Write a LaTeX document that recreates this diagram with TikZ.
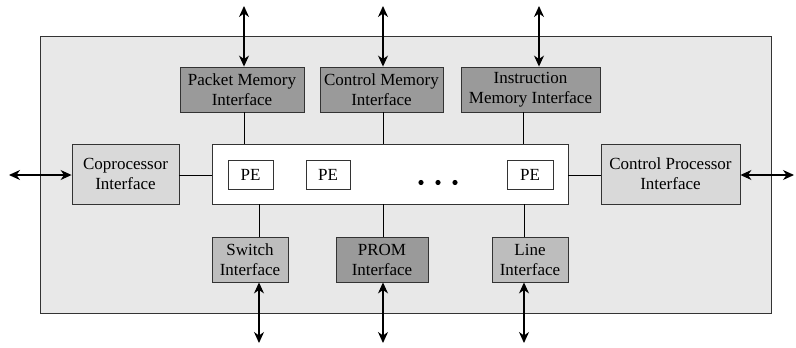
\documentclass[tikz,border=0pt]{standalone}
\usepackage{fontspec}
\setmainfont{Liberation Serif}
\usetikzlibrary{arrows.meta}
\definecolor{outerfill}{HTML}{E8E8E8}
\definecolor{lightfill}{HTML}{D9D9D9}
\definecolor{midfill}{HTML}{BDBDBD}
\definecolor{darkfill}{HTML}{9A9A9A}
\definecolor{edge}{HTML}{333333}
\begin{document}
\begin{tikzpicture}[x=1pt,y=-1pt,
  blk/.style={rectangle,draw=edge,line width=0.9pt,inner sep=0pt,align=center,
    font=\fontsize{17}{20}\selectfont},
  conn/.style={draw=black,line width=0.9pt},
  bidir/.style={black,line width=1.1pt,{Stealth[length=11pt,width=10pt,inset=3.5pt]}-{Stealth[length=11pt,width=10pt,inset=3.5pt]}}]
\useasboundingbox (0,0) rectangle (796,348);
% outer chip
\node[blk,fill=outerfill,minimum width=731pt,minimum height=277pt] (chip) at (405.5,174.5) {};
% core
\node[blk,fill=white,minimum width=356pt,minimum height=60pt] (core) at (390,174) {};
\node[blk,fill=white,minimum width=45pt,minimum height=29pt] (pe1) at (250.5,174.5) {PE};
\node[blk,fill=white,minimum width=44pt,minimum height=29pt] (pe2) at (328,174.5) {PE};
\node[blk,fill=white,minimum width=46pt,minimum height=29pt] (pe3) at (530,174.5) {PE};
\fill (421,182.5) circle (2.6pt) (438,182.5) circle (2.6pt) (455,182.5) circle (2.6pt);
% top interfaces
\node[blk,fill=darkfill,minimum width=124pt,minimum height=45pt] (pmi) at (242,89.5) {Packet Memory\\Interface};
\node[blk,fill=darkfill,minimum width=123pt,minimum height=45pt] (cmi) at (381.5,89.5) {Control Memory\\Interface};
\node[blk,fill=darkfill,minimum width=139pt,minimum height=45pt] (imi) at (530.5,89.5) {Instruction\\Memory Interface};
% side interfaces
\node[blk,fill=lightfill,minimum width=107pt,minimum height=60pt] (cop) at (125.5,174) {Coprocessor\\Interface};
\node[blk,fill=lightfill,minimum width=139pt,minimum height=60pt] (cpi) at (670.5,174) {Control Processor\\Interface};
% bottom interfaces
\node[blk,fill=midfill,minimum width=76pt,minimum height=45pt] (sw) at (250,259.5) {Switch\\Interface};
\node[blk,fill=darkfill,minimum width=92pt,minimum height=45pt] (prom) at (382,259.5) {PROM\\Interface};
\node[blk,fill=midfill,minimum width=76pt,minimum height=45pt] (li) at (530,259.5) {Line\\Interface};
% internal connections
\coordinate (x1) at (244,0);
\coordinate (x2) at (383,0);
\coordinate (x3) at (523,0);
\coordinate (x4) at (259,0);
\coordinate (x5) at (383,0);
\coordinate (x6) at (524,0);
\coordinate (ym) at (0,175);
\draw[conn] (x1 |- pmi.south) -- (x1 |- core.north);
\draw[conn] (x2 |- cmi.south) -- (x2 |- core.north);
\draw[conn] (x3 |- imi.south) -- (x3 |- core.north);
\draw[conn] (x4 |- core.south) -- (x4 |- sw.north);
\draw[conn] (x5 |- core.south) -- (x5 |- prom.north);
\draw[conn] (x6 |- core.south) -- (x6 |- li.north);
\draw[conn] (ym -| cop.east) -- (ym -| core.west);
\draw[conn] (ym -| core.east) -- (ym -| cpi.west);
% external arrows
\coordinate (t1) at (244,6);
\coordinate (t2) at (383,6);
\coordinate (t3) at (539,6);
\coordinate (b1) at (259,343);
\coordinate (b2) at (383,343);
\coordinate (b3) at (524,343);
\coordinate (lft) at (9,175);
\coordinate (rgt) at (794,175);
\draw[bidir] (t1) -- (t1 |- pmi.north);
\draw[bidir] (t2) -- (t2 |- cmi.north);
\draw[bidir] (t3) -- (t3 |- imi.north);
\draw[bidir] (b1 |- sw.south) -- (b1);
\draw[bidir] (b2 |- prom.south) -- (b2);
\draw[bidir] (b3 |- li.south) -- (b3);
\draw[bidir] (lft) -- (lft -| cop.west);
\draw[bidir] (cpi.east |- rgt) -- (rgt);
\end{tikzpicture}
\end{document}
